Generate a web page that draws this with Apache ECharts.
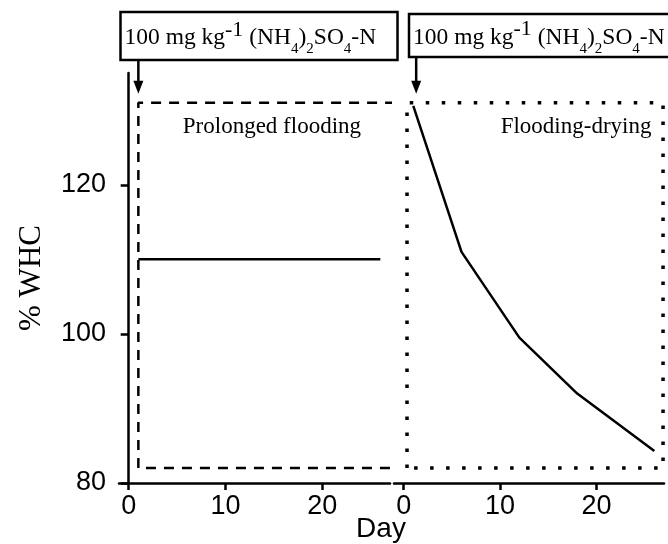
<!DOCTYPE html>
<html>
<head>
<meta charset="utf-8">
<script src="https://cdn.jsdelivr.net/npm/echarts@6/dist/echarts.min.js"></script>
<style>
  html, body { margin: 0; padding: 0; background: #fff; }
  #chart { width: 668px; height: 544px; }
</style>
</head>
<body>
<div id="chart"></div>
<script>
// Axis ticks
const dayTicks = [0, 10, 20];
const whcTicks = [80, 100, 120];

// Prolonged flooding: water content held constant
const floodDays = [1, 26];
const floodWHC = [110, 110];

// Flooding-drying: water content allowed to decline
const dryDays = [1, 6, 12, 18, 26];
const dryWHC = [130.6, 111, 99.5, 92, 84.3];

// Frames around each treatment (day span, %WHC span)
const floodFrameDays = [1, 27.4];
const dryFrameDays = [0.35, 26.9];
const frameWHC = [82, 131];

// Day the fertiliser was applied in each treatment, and arrow tip level
const applyDay = [1, 1.3];
const arrowTipWHC = 132.2;

const SERIF = '"Liberation Serif", "Times New Roman", serif';
const SANS = '"Liberation Sans", Arial, sans-serif';

function pairs(xs, ys) { return xs.map((x, i) => [x, ys[i]]); }
function frame(days, whc) {
  return [[days[0], whc[0]], [days[0], whc[1]], [days[1], whc[1]], [days[1], whc[0]], [days[0], whc[0]]];
}

const axisLine = { show: true, lineStyle: { color: '#000', width: 2.5 } };
const xAxisCommon = {
  type: 'value', min: -1, max: 27,
  axisLine: axisLine,
  axisTick: { show: true, length: 7, customValues: dayTicks, lineStyle: { color: '#000', width: 2.5 } },
  axisLabel: { customValues: dayTicks, color: '#000', fontFamily: SANS, fontSize: 27, margin: 10 },
  splitLine: { show: false }
};

const chart = echarts.init(document.getElementById('chart'), null, { renderer: 'canvas' });

chart.setOption({
  backgroundColor: '#fff',
  animation: false,
  grid: [
    { left: 119, right: 278, top: 73, bottom: 61 },
    { left: 394, right: 4, top: 73, bottom: 61 }
  ],
  xAxis: [
    Object.assign({ gridIndex: 0 }, xAxisCommon),
    Object.assign({ gridIndex: 1 }, xAxisCommon)
  ],
  yAxis: [
    {
      gridIndex: 0, type: 'value', min: 80, max: 135,
      name: '% WHC', nameLocation: 'middle', nameGap: 72, nameRotate: 90,
      nameTextStyle: { color: '#000', fontFamily: SERIF, fontSize: 31 },
      axisLine: axisLine,
      axisTick: { show: true, length: 8, customValues: whcTicks, lineStyle: { color: '#000', width: 2.5 } },
      axisLabel: { customValues: whcTicks, color: '#000', fontFamily: SANS, fontSize: 27, margin: 13 },
      splitLine: { show: false }
    },
    { gridIndex: 1, type: 'value', min: 80, max: 135, show: false, splitLine: { show: false } }
  ],
  series: [
    {
      type: 'line', xAxisIndex: 0, yAxisIndex: 0, clip: false, symbol: 'none',
      data: frame(floodFrameDays, frameWHC),
      lineStyle: { color: '#000', width: 2.5, type: [10, 8] }
    },
    {
      type: 'line', xAxisIndex: 0, yAxisIndex: 0, symbol: 'none',
      data: pairs(floodDays, floodWHC),
      lineStyle: { color: '#000', width: 2.5 }
    },
    {
      type: 'line', xAxisIndex: 1, yAxisIndex: 1, clip: false, symbol: 'none',
      data: frame(dryFrameDays, frameWHC),
      lineStyle: { color: '#000', width: 3.5, type: [3.5, 12.5] }
    },
    {
      type: 'line', xAxisIndex: 1, yAxisIndex: 1, symbol: 'none',
      data: pairs(dryDays, dryWHC),
      lineStyle: { color: '#000', width: 2.5 }
    }
  ]
});

// Annotations placed from the axes' own scales
const labelText = '100 mg kg{sup|-1} (NH{sub|4}){sub|2}SO{sub|4}-N';
const labelRich = {
  sup: { fontFamily: SERIF, fontSize: 22, verticalAlign: 'top', lineHeight: 38 },
  sub: { fontFamily: SERIF, fontSize: 15, verticalAlign: 'bottom', lineHeight: 36 }
};

function labelBox(x0, x1, y0, y1) {
  return [
    { type: 'rect', shape: { x: x0, y: y0, width: x1 - x0, height: y1 - y0 },
      style: { fill: '#fff', stroke: '#000', lineWidth: 2.5 } },
    { type: 'text', x: x0 + 4, y: (y0 + y1) / 2 + 2,
      style: { text: labelText, fill: '#000', fontFamily: SERIF, fontSize: 23.5,
               lineHeight: 36, verticalAlign: 'middle', rich: labelRich } }
  ];
}

function arrow(x, yTop, yTip) {
  return [
    { type: 'line', shape: { x1: x, y1: yTop, x2: x, y2: yTip - 10 },
      style: { stroke: '#000', lineWidth: 2.5 } },
    { type: 'polygon', shape: { points: [[x - 5, yTip - 13], [x + 5, yTip - 13], [x, yTip]] },
      style: { fill: '#000' } }
  ];
}

const tipL = chart.convertToPixel({ gridIndex: 0 }, [applyDay[0], arrowTipWHC]);
const tipR = chart.convertToPixel({ gridIndex: 1 }, [applyDay[1], arrowTipWHC]);
const axisL = chart.convertToPixel({ gridIndex: 0 }, [-1, 80]);
const endL = chart.convertToPixel({ gridIndex: 0 }, [27, 80]);
const startR = chart.convertToPixel({ gridIndex: 1 }, [-1, 80]);

const textL = chart.convertToPixel({ gridIndex: 0 }, [14.8, 127.8]);
const textR = chart.convertToPixel({ gridIndex: 1 }, [25.7, 127.8]);

chart.setOption({
  graphic: [].concat(
    labelBox(axisL[0] + 1.5, 397.5, 12, 60),
    labelBox(409, 672, 14, 57),
    arrow(tipL[0], 60, tipL[1]),
    arrow(tipR[0], 57, tipR[1]),
    [
      { type: 'text', x: textL[0], y: textL[1],
        style: { text: 'Prolonged flooding', fill: '#000', fontFamily: SERIF, fontSize: 23,
                 align: 'center', verticalAlign: 'middle' } },
      { type: 'text', x: textR[0], y: textR[1],
        style: { text: 'Flooding-drying', fill: '#000', fontFamily: SERIF, fontSize: 23,
                 align: 'right', verticalAlign: 'middle' } },
      { type: 'text', x: (endL[0] + startR[0]) / 2 - 11, y: endL[1] + 46,
        style: { text: 'Day', fill: '#000', fontFamily: SANS, fontSize: 28,
                 align: 'center', verticalAlign: 'middle' } }
    ]
  )
});
</script>
</body>
</html>
